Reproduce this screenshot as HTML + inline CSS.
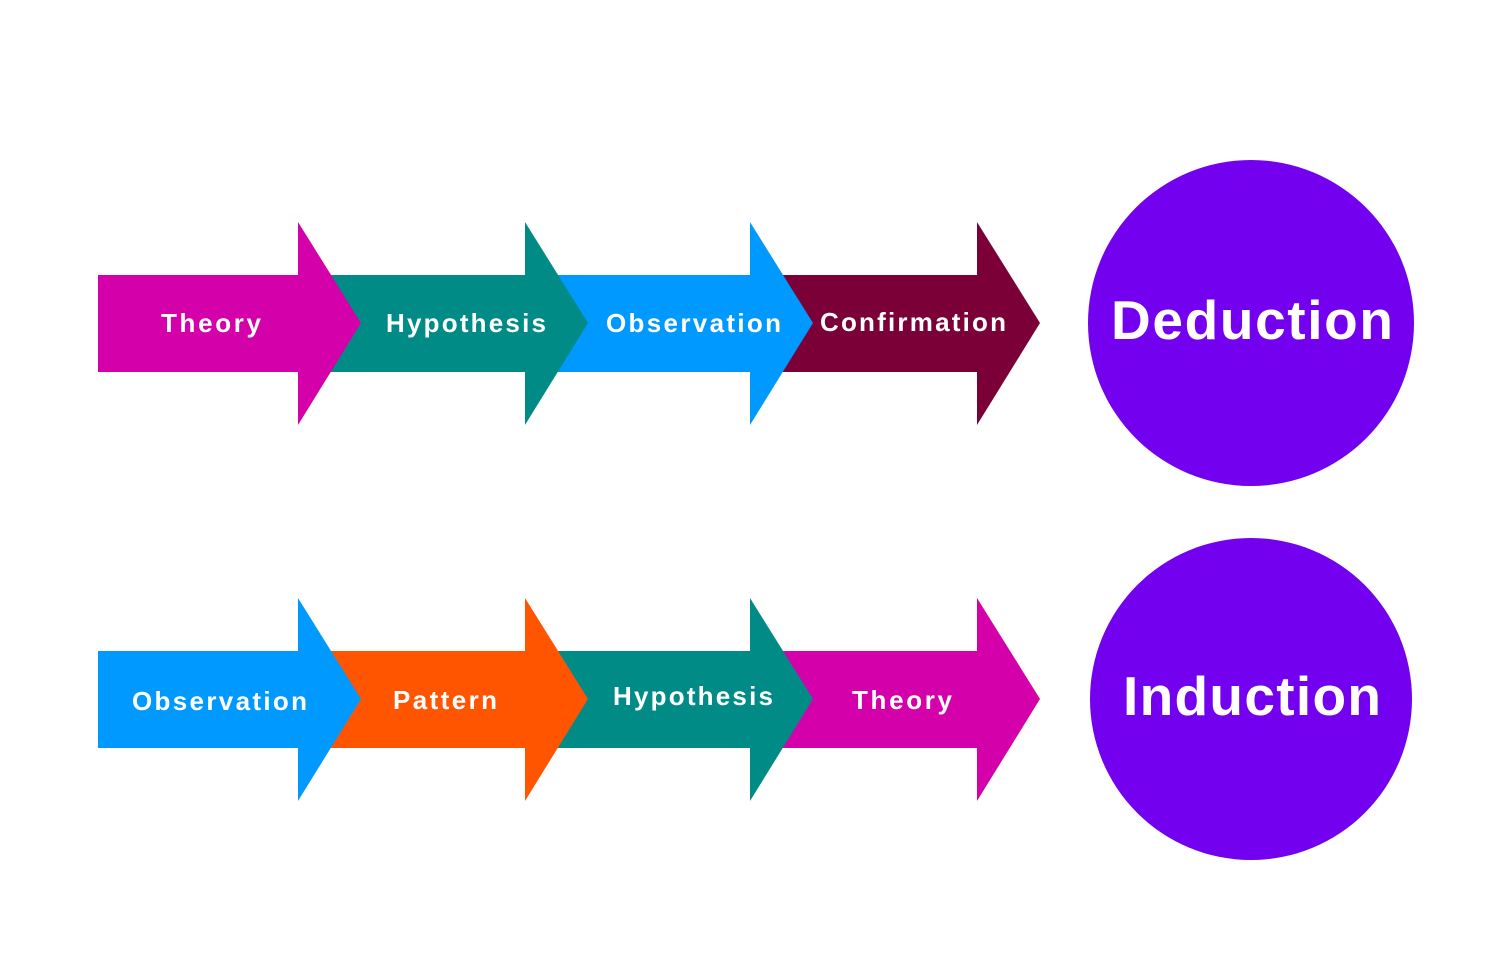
<!DOCTYPE html>
<html><head><style>html,body{margin:0;padding:0;background:#fff;}svg{display:block}</style></head>
<body>
<svg width="1500" height="964" viewBox="0 0 1500 964" xmlns="http://www.w3.org/2000/svg" font-family="Liberation Sans, sans-serif" font-weight="bold" fill="#fff">
<defs>
<path id="ar" d="M0,53 H200 V0 L263,101 L200,203 V150 H0 Z"/>
</defs>
<g transform="translate(0,222)">
<use href="#ar" x="777" fill="#7b0038"/>
<use href="#ar" x="550" fill="#0099ff"/>
<use href="#ar" x="325" fill="#008b87"/>
<use href="#ar" x="98" fill="#d400aa"/>
</g>
<g transform="translate(0,598)">
<use href="#ar" x="777" fill="#d400aa"/>
<use href="#ar" x="550" fill="#008b87"/>
<use href="#ar" x="325" fill="#ff5500"/>
<use href="#ar" x="98" fill="#0099ff"/>
</g>
<circle cx="1251" cy="323" r="163" fill="#7300ee"/>
<circle cx="1251" cy="699" r="161" fill="#7300ee"/>
<g font-size="26" fill="#fff">
<text x="161" y="332" textLength="100">Theory</text>
<text x="386" y="332" textLength="160">Hypothesis</text>
<text x="606" y="332" textLength="175">Observation</text>
<text x="820" y="331" textLength="186">Confirmation</text>
<text x="132" y="710" textLength="175">Observation</text>
<text x="393" y="709" textLength="104">Pattern</text>
<text x="613" y="705" textLength="160">Hypothesis</text>
<text x="852" y="709" textLength="100">Theory</text>
</g>
<g font-size="55" fill="#fff">
<text x="1111" y="339" textLength="282">Deduction</text>
<text x="1123" y="715" textLength="258">Induction</text>
</g>
</svg>
</body></html>
